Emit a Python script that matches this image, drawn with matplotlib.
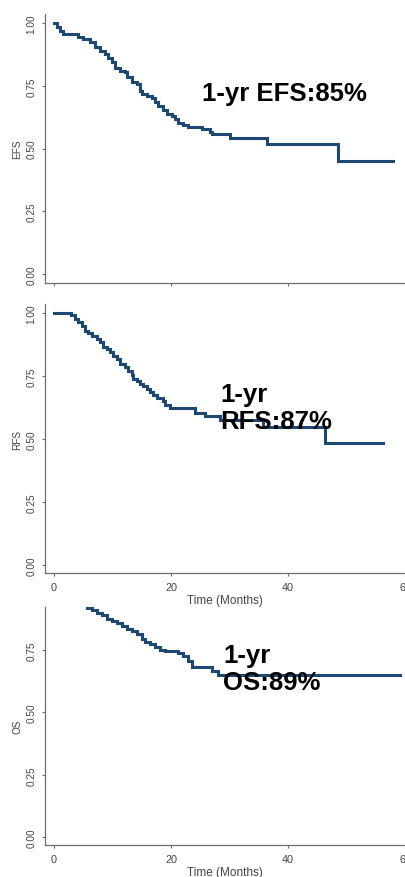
import matplotlib
matplotlib.use("Agg")
import matplotlib.pyplot as plt

plt.rcParams['font.family'] = ['Liberation Sans', 'DejaVu Sans']

# Kaplan-Meier steps (time in months, survival)
efs_t = [0, 0.46, 1.03, 1.6, 4.16, 5.0, 6.15, 7.0, 7.86, 8.72, 9.29, 9.86, 10.43,
         11.28, 12.14, 12.42, 13.28, 14.13, 14.7, 14.99, 15.84, 16.7, 17.26, 17.83,
         18.69, 19.26, 20.11, 20.68, 21.25, 22.11, 22.96, 25.24, 26.67, 26.95, 30.09,
         36.35, 48.6, 58.0]
efs_s = [1.0, 0.983, 0.969, 0.956, 0.943, 0.936, 0.923, 0.903, 0.890, 0.877, 0.859,
         0.843, 0.820, 0.810, 0.804, 0.784, 0.764, 0.757, 0.731, 0.717, 0.708, 0.700,
         0.684, 0.668, 0.654, 0.638, 0.631, 0.618, 0.602, 0.594, 0.585, 0.576, 0.565,
         0.556, 0.541, 0.516, 0.450, 0.450]

rfs_t = [0, 2.85, 3.59, 4.16, 4.73, 5.3, 5.87, 6.44, 7.29, 7.86, 8.43, 9.0, 9.57,
         10.14, 10.71, 11.28, 12.14, 12.71, 13.28, 13.56, 14.13, 14.7, 15.27, 15.84,
         16.41, 16.98, 17.55, 18.69, 18.97, 19.83, 24.1, 25.81, 28.38, 35.78, 46.32,
         56.3]
rfs_s = [1.0, 0.992, 0.976, 0.963, 0.947, 0.930, 0.921, 0.910, 0.897, 0.884, 0.864,
         0.857, 0.844, 0.831, 0.817, 0.798, 0.784, 0.771, 0.754, 0.738, 0.731, 0.718,
         0.709, 0.698, 0.685, 0.675, 0.661, 0.652, 0.635, 0.622, 0.603, 0.593, 0.575,
         0.546, 0.484, 0.484]

os_t = [0, 5.7, 6.44, 7.29, 8.15, 9.0, 9.86, 10.71, 11.57, 12.42, 13.28, 14.13,
        14.99, 15.56, 16.41, 17.26, 18.12, 18.97, 21.25, 22.11, 22.96, 23.53, 26.95,
        28.09, 59.1]
os_s = [1.0, 0.92, 0.910, 0.899, 0.889, 0.875, 0.866, 0.857, 0.846, 0.835, 0.826,
        0.813, 0.795, 0.782, 0.773, 0.763, 0.752, 0.746, 0.737, 0.726, 0.706, 0.683,
        0.666, 0.649, 0.649]

labels = ["EFS", "RFS", "OS"]
notes = ["1-yr EFS:85%", "1-yr\nRFS:87%", "1-yr\nOS:89%"]
note_pos = [(25.3, 0.72), (28.4, 0.625), (28.9, 0.675)]
xticks = [0, 20, 40, 60]
yticks = [0.0, 0.25, 0.5, 0.75, 1.0]

W, H = 405, 878
fig = plt.figure(figsize=(W / 100, H / 100), dpi=100)

# axes boxes in pixels: (top, bottom), plus y limits
boxes = [(15, 284, (-0.036, 1.036)),
         (305, 574, (-0.032, 1.036)),
         (608, 846, (-0.032, 0.9226))]
series = [(efs_t, efs_s), (rfs_t, rfs_s), (os_t, os_s)]

line_col = "#1c4873"
axis_col = "#6e6e6e"
text_col = "#444444"

for i, ((top, bot, ylim), (t, s)) in enumerate(zip(boxes, series)):
    ax = fig.add_axes([45 / W, 1 - bot / H, 1 - 45 / W, (bot - top) / H])
    ax.plot(t, s, drawstyle="steps-post", color=line_col, lw=2.2,
            solid_joinstyle="miter")
    ax.set_xticks(xticks)
    ax.set_yticks(yticks)
    ax.set_yticklabels(["%.2f" % v for v in yticks], rotation=90, va="center")
    ax.set_xlim(-1.54, 60)
    ax.set_ylim(*ylim)
    for side in ["top", "right"]:
        ax.spines[side].set_visible(False)
    for side in ["left", "bottom"]:
        ax.spines[side].set_color(axis_col)
        ax.spines[side].set_linewidth(0.9)
    ax.tick_params(axis="both", colors=axis_col, length=2.5, width=0.8,
                   labelcolor=text_col)
    ax.tick_params(axis="y", labelsize=7.2, pad=3.5)
    ax.tick_params(axis="x", labelsize=7.8, pad=4)
    ax.set_ylabel(labels[i], fontsize=7.2, color=text_col, labelpad=3)
    if i == 0:
        ax.tick_params(axis="x", labelbottom=False)
    else:
        ax.set_xlabel("Time (Months)", fontsize=8.5, color=text_col, labelpad=1.5)
    ax.text(note_pos[i][0], note_pos[i][1], notes[i], fontsize=18.5,
            fontweight="bold", color="black", ha="left", va="center",
            linespacing=1.15)

fig.savefig("out.png", dpi=100)
